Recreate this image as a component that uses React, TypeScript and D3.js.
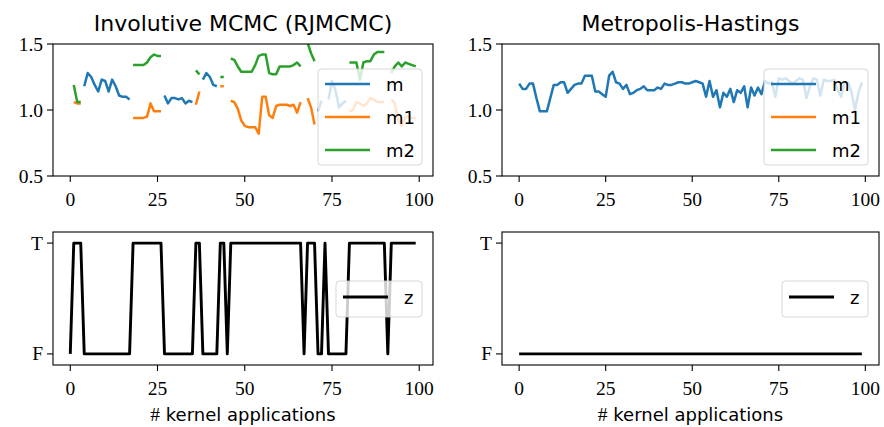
import React from 'react';
import * as d3 from 'd3';

// kernel application index (x axis)
const steps = d3.range(0, 100);

// Involutive MCMC (RJMCMC): z = 1 (T) uses m1/m2, z = 0 (F) uses m
const zRJ = [
  0, 1, 1, 1, 0, 0, 0, 0, 0, 0,
  0, 0, 0, 0, 0, 0, 0, 0, 1, 1,
  1, 1, 1, 1, 1, 1, 1, 0, 0, 0,
  0, 0, 0, 0, 0, 0, 1, 1, 0, 0,
  0, 0, 0, 1, 1, 0, 1, 1, 1, 1,
  1, 1, 1, 1, 1, 1, 1, 1, 1, 1,
  1, 1, 1, 1, 1, 1, 1, 0, 1, 1,
  1, 0, 0, 1, 0, 0, 0, 0, 0, 0,
  1, 1, 1, 1, 1, 1, 1, 1, 1, 1,
  1, 0, 1, 1, 1, 1, 1, 1, 1, 1,
];

const mRJ = [
  1.12, null, null, null, 1.18, 1.28, 1.25, 1.19, 1.14, 1.23,
  1.22, 1.14, 1.23, 1.18, 1.11, 1.10, 1.10, 1.08, null, null,
  null, null, null, null, null, null, null, 1.11, 1.05, 1.09,
  1.09, 1.08, 1.09, 1.05, 1.07, 1.06, null, null, 1.23, 1.28,
  1.25, 1.19, 1.18, null, null, 1.2, null, null, null, null,
  null, null, null, null, null, null, null, null, null, null,
  null, null, null, null, null, null, null, 1.1, null, null,
  null, 0.99, 1.07, null, 1.08, 1.22, 1.15, 1.02, 1.05, 1.07,
  null, null, null, null, null, null, null, null, null, null,
  null, 1.1, null, null, null, null, null, null, null, null,
];

const m1RJ = [
  null, 1.06, 1.05, 1.05, null, null, null, null, null, null,
  null, null, null, null, null, null, null, null, 0.94, 0.94,
  0.94, 0.94, 0.95, 1.05, 0.99, 0.99, 0.99, null, null, null,
  null, null, null, null, null, null, 1.04, 1.14, null, null,
  null, null, null, 1.18, 1.18, null, 1.07, 1.06, 1.01, 0.92,
  0.88, 0.87, 0.87, 0.87, 0.82, 1.10, 1.10, 0.96, 0.94, 1.03,
  1.04, 1.04, 1.04, 1.03, 1.04, 0.98, 1.06, null, 1.09, 1.02,
  0.89, null, null, 1.0, null, null, null, null, null, null,
  0.99, 1.0, 1.06, 1.05, 1.03, 1.05, 1.09, 1.08, 1.06, 1.06,
  1.06, null, 1.08, 1.05, 0.92, 0.88, 0.95, 0.95, 0.94, 0.94,
];

const m2RJ = [
  null, 1.19, 1.06, 1.06, null, null, null, null, null, null,
  null, null, null, null, null, null, null, null, 1.34, 1.34,
  1.34, 1.34, 1.36, 1.40, 1.42, 1.41, 1.41, null, null, null,
  null, null, null, null, null, null, 1.30, 1.27, null, null,
  null, null, null, 1.25, 1.25, null, 1.39, 1.38, 1.33, 1.29,
  1.29, 1.29, 1.29, 1.34, 1.41, 1.42, 1.42, 1.28, 1.27, 1.27,
  1.33, 1.33, 1.33, 1.33, 1.34, 1.36, 1.33, null, 1.51, 1.43,
  1.37, null, null, 1.3, null, null, null, null, null, null,
  1.36, 1.36, 1.36, 1.23, 1.36, 1.37, 1.37, 1.42, 1.44, 1.44,
  1.44, null, 1.28, 1.33, 1.36, 1.33, 1.36, 1.35, 1.34, 1.33,
];

// Metropolis-Hastings: z stays F, only m moves
const zMH = [
  0, 0, 0, 0, 0, 0, 0, 0, 0, 0,
  0, 0, 0, 0, 0, 0, 0, 0, 0, 0,
  0, 0, 0, 0, 0, 0, 0, 0, 0, 0,
  0, 0, 0, 0, 0, 0, 0, 0, 0, 0,
  0, 0, 0, 0, 0, 0, 0, 0, 0, 0,
  0, 0, 0, 0, 0, 0, 0, 0, 0, 0,
  0, 0, 0, 0, 0, 0, 0, 0, 0, 0,
  0, 0, 0, 0, 0, 0, 0, 0, 0, 0,
  0, 0, 0, 0, 0, 0, 0, 0, 0, 0,
  0, 0, 0, 0, 0, 0, 0, 0, 0, 0,
];

const mMH = [
  1.20, 1.16, 1.16, 1.20, 1.20, 1.09, 0.99, 0.99, 0.99, 1.09,
  1.19, 1.19, 1.21, 1.21, 1.13, 1.16, 1.19, 1.20, 1.20, 1.26,
  1.26, 1.26, 1.14, 1.14, 1.12, 1.10, 1.26, 1.29, 1.21, 1.20,
  1.16, 1.19, 1.12, 1.13, 1.15, 1.16, 1.18, 1.15, 1.15, 1.15,
  1.17, 1.16, 1.20, 1.19, 1.19, 1.20, 1.21, 1.21, 1.20, 1.20,
  1.21, 1.22, 1.21, 1.20, 1.10, 1.22, 1.10, 1.15, 1.02, 1.13,
  1.10, 1.16, 1.06, 1.15, 1.13, 1.18, 1.02, 1.17, 1.11, 1.17,
  1.12, 1.22, 1.20, 1.21, 1.10, 1.24, 1.23, 1.24, 1.22, 1.20,
  1.22, 1.24, 1.23, 1.09, 1.18, 1.24, 1.23, 1.11, 1.23, 1.22,
  1.22, 1.23, 1.15, 1.10, 1.21, 1.21, 1.14, 1.00, 1.13, 1.21,
];
const emptySeries = mMH.map(() => null);

const xTicks = [0, 25, 50, 75, 100];
const mTicks = [0.5, 1.0, 1.5];
const zTicks = [0, 1];
const zTickLabels = ['F', 'T'];

const BLUE = '#1f77b4';
const ORANGE = '#ff7f0e';
const GREEN = '#2ca02c';

const SANS = '"DejaVu Sans", sans-serif';
const SERIF = '"Liberation Serif", "DejaVu Serif", serif';

type Val = number | null;
type Series = { label: string; values: Val[]; color: string; width: number };

const cols = [
  { left: 53, right: 433, title: 'Involutive MCMC (RJMCMC)', m: [mRJ, m1RJ, m2RJ], z: zRJ },
  { left: 502, right: 879, title: 'Metropolis-Hastings', m: [mMH, emptySeries, emptySeries], z: zMH },
];

const Legend = ({ x, y, w, h, items }: { x: number; y: number; w: number; h: number; items: Series[] }) => {
  const gap = items.length > 1 ? (h - 30) / (items.length - 1) : 0;
  return (
    <g>
      <rect x={x} y={y} width={w} height={h} rx={3.5} fill="white" fillOpacity={0.8}
        stroke="#cccccc" strokeOpacity={0.8} strokeWidth={1} />
      {items.map((s, i) => {
        const ly = items.length > 1 ? y + 15 + i * gap : y + h / 2 - 2;
        return (
          <g key={s.label}>
            <line x1={x + 7} x2={x + 52} y1={ly} y2={ly} stroke={s.color} strokeWidth={s.width} />
            <text x={x + 68} y={ly + 6.5} fontFamily={SANS} fontSize={18} fill="black">{s.label}</text>
          </g>
        );
      })}
    </g>
  );
};

const Axes = ({ left, right, top, bottom, yDomain, yTicks, yLabel, series, legend, clipId, xlabel }: any) => {
  const x = d3.scaleLinear().domain([-4.95, 103.95]).range([left, right]);
  const y = d3.scaleLinear().domain(yDomain).range([bottom, top]);
  const line = d3.line<Val>()
    .defined(d => d != null)
    .x((_, i) => x(steps[i]))
    .y(d => y(d as number));
  return (
    <g>
      <defs>
        <clipPath id={clipId}>
          <rect x={left} y={top} width={right - left} height={bottom - top} />
        </clipPath>
      </defs>
      <g clipPath={`url(#${clipId})`}>
        {series.map((s: Series) => (
          <path key={s.label} d={line(s.values) || ''} fill="none" stroke={s.color}
            strokeWidth={s.width} strokeLinejoin="round" strokeLinecap="butt" />
        ))}
      </g>
      {legend}
      <rect x={left} y={top} width={right - left} height={bottom - top} fill="none" stroke="black" strokeWidth={1.1} />
      {xTicks.map(t => (
        <g key={t}>
          <line x1={x(t)} x2={x(t)} y1={bottom} y2={bottom + 6} stroke="black" strokeWidth={1.1} />
          <text x={x(t)} y={bottom + 30} textAnchor="middle" fontFamily={SERIF} fontSize={19.5}>{t}</text>
        </g>
      ))}
      {yTicks.map((t: number, i: number) => (
        <g key={t}>
          <line x1={left - 6} x2={left} y1={y(t)} y2={y(t)} stroke="black" strokeWidth={1.1} />
          <text x={left - 10} y={y(t) + 6.5} textAnchor="end" fontFamily={SERIF} fontSize={19.5}>{yLabel(t, i)}</text>
        </g>
      ))}
      {xlabel && (
        <text x={(left + right) / 2} y={421} textAnchor="middle" fontSize={18}>
          <tspan fontFamily={SERIF} fontSize={19.5}>#</tspan>
          <tspan fontFamily={SANS}> kernel applications</tspan>
        </text>
      )}
    </g>
  );
};

const fmt = d3.format('.1f');

export default function App() {
  return (
    <svg width={884} height={427} style={{ position: 'absolute', left: 0, top: 0, background: 'white' }}>
      {cols.map((c, ci) => {
        const mSeries: Series[] = [
          { label: 'm', values: c.m[0], color: BLUE, width: 2.5 },
          { label: 'm1', values: c.m[1], color: ORANGE, width: 2.5 },
          { label: 'm2', values: c.m[2], color: GREEN, width: 2.5 },
        ];
        const zSeries: Series[] = [{ label: 'z', values: c.z, color: 'black', width: 2.9 }];
        const legendRight = c.right - 11;
        return (
          <g key={ci}>
            <text x={(c.left + c.right) / 2} y={31} textAnchor="middle" fontFamily={SANS} fontSize={22}>{c.title}</text>
            <Axes left={c.left} right={c.right} top={44} bottom={176} yDomain={[0.5, 1.5]} yTicks={mTicks}
              yLabel={(t: number) => fmt(t)} series={mSeries} clipId={`clipm${ci}`}
              legend={<Legend x={legendRight - 104} y={69} w={104} h={96} items={mSeries} />} />
            <Axes left={c.left} right={c.right} top={232} bottom={365} yDomain={[-0.1, 1.1]} yTicks={zTicks}
              yLabel={(_: number, i: number) => zTickLabels[i]} series={zSeries} clipId={`clipz${ci}`} xlabel
              legend={<Legend x={legendRight - 86} y={281} w={86} h={36} items={zSeries} />} />
          </g>
        );
      })}
    </svg>
  );
}
